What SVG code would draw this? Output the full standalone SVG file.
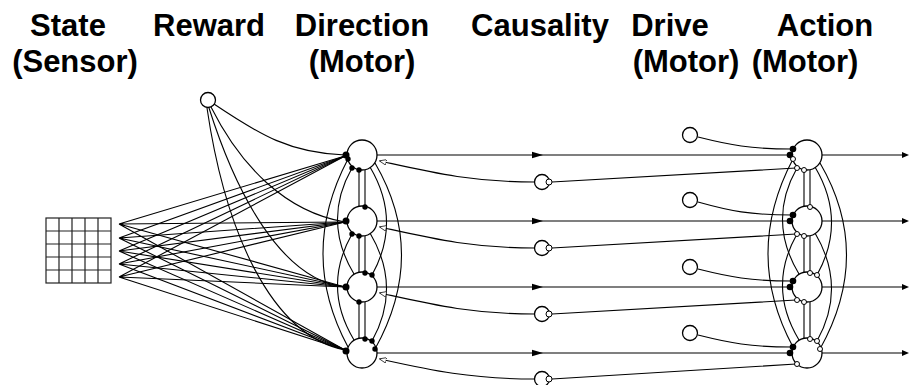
<svg xmlns="http://www.w3.org/2000/svg" width="909" height="385" viewBox="0 0 909 385">
<style>
.t{font-family:"Liberation Sans",Arial,sans-serif;font-weight:bold;font-size:31px;fill:#000;text-anchor:middle}
.ln{fill:none;stroke:#000;stroke-width:1.1}
.nd{fill:#fff;stroke:#000;stroke-width:1.3}
.bd{fill:#000}
.wd{fill:#fff;stroke:#000;stroke-width:1}
.gr{fill:none;stroke:#222;stroke-width:1.2}
</style>
<defs>
<marker id="hol" viewBox="0 0 10 8" refX="9" refY="4" markerWidth="7" markerHeight="5.6" orient="auto" markerUnits="userSpaceOnUse">
<path d="M0,0 L10,4 L0,8 Z" fill="#fff" stroke="#000" stroke-width="1"/>
</marker>
<polygon id="mid" points="-11,-3.2 0,0 -11,3.2"/>
<polygon id="out" points="-7,-3 0,0 -7,3"/>
</defs>

<g id="titles">
<text class="t" x="68" y="36">State</text>
<text class="t" x="75" y="72">(Sensor)</text>
<text class="t" x="209" y="36">Reward</text>
<text class="t" x="362" y="36">Direction</text>
<text class="t" x="362" y="72">(Motor)</text>
<text class="t" x="540" y="36">Causality</text>
<text class="t" x="670" y="36">Drive</text>
<text class="t" x="686" y="72">(Motor)</text>
<text class="t" x="825" y="36">Action</text>
<text class="t" x="805" y="72">(Motor)</text>
</g>

<g id="connectors">
<g class="ln">
<path d="M119,224L345,156M119,224L345,222M119,224L345,287M119,224L345,350"/>
<path d="M119,238L345,156M119,238L345,222M119,238L345,287M119,238L345,350"/>
<path d="M119,251L345,156M119,251L345,222M119,251L345,287M119,251L345,350"/>
<path d="M119,264L345,156M119,264L345,222M119,264L345,287M119,264L345,350"/>
<path d="M119,277L345,156M119,277L345,222M119,277L345,287M119,277L345,350"/>
</g>
<g class="ln">
<path d="M214,104 C260,135 290,153 345,155"/>
<path d="M211,107 C240,165 285,212 345,222"/>
<path d="M209,108 C235,190 280,280 345,287"/>
<path d="M207,108 C225,230 270,335 345,350"/>
</g>
<g class="ln">
<path d="M365,170V206M365,236V272M365,302V338"/>
<path d="M359,206V170M359,272V236M359,338V302"/>
<path d="M370,167 Q402,221 372,275"/>
<path d="M370,233 Q402,287 372,341"/>
<path d="M375,163 Q428,254 375,349"/>
<path d="M354,274 Q322,221 352,168"/>
<path d="M354,340 Q322,287 352,234"/>
<path d="M348,347 Q298,254 348,159"/>
</g>
<g class="ln">
<path d="M810,170V206M810,236V272M810,302V338"/>
<path d="M804,206V170M804,272V236M804,338V302"/>
<path d="M815,167 Q847,221 817,275"/>
<path d="M815,233 Q847,287 817,341"/>
<path d="M820,163 Q873,254 820,349"/>
<path d="M799,274 Q767,221 797,168"/>
<path d="M799,340 Q767,287 797,234"/>
<path d="M793,347 Q743,254 793,159"/>
</g>
<g class="ln">
<path d="M377,155H790M377,221H790M377,287H790M377,353H790"/>
</g>
<g class="bd">
<use href="#mid" x="543" y="155"/><use href="#mid" x="543" y="221"/><use href="#mid" x="543" y="287"/><use href="#mid" x="543" y="353"/>
</g>
<g class="ln">
<path d="M534.5,182 C470,182 430,172 380,161" marker-end="url(#hol)"/>
<path d="M534.5,248 C470,248 430,238 380,227" marker-end="url(#hol)"/>
<path d="M534.5,314 C470,314 430,304 380,293" marker-end="url(#hol)"/>
<path d="M534.5,379 C470,379 430,370 380,359" marker-end="url(#hol)"/>
</g>
<g class="ln">
<path d="M552,182L796,168M552,248L796,234M552,314L796,300M552,379L796,364"/>
</g>
<g class="ln">
<path d="M698,137 C730,145 750,149 792,149"/>
<path d="M698,202 C730,211 750,215 792,215"/>
<path d="M698,269 C730,277 750,281 792,281"/>
<path d="M698,335 C730,343 750,347 792,347"/>
</g>
<g class="ln">
<path d="M822,155H903M822,221H903M822,287H903M822,353H903"/>
</g>
<g class="bd">
<use href="#out" x="909" y="155"/><use href="#out" x="909" y="221"/><use href="#out" x="909" y="287"/><use href="#out" x="909" y="353"/>
</g>
</g>

<g id="state">
<rect class="gr" x="46" y="218" width="65" height="65"/>
<path class="gr" d="M59,218V283M72,218V283M85,218V283M98,218V283M46,231H111M46,244H111M46,257H111M46,270H111"/>
</g>
<g id="reward"><circle class="nd" cx="208" cy="100" r="7.5"/></g>

<g id="direction1"><circle class="nd" cx="362" cy="155" r="15"/></g>
<g id="direction2"><circle class="nd" cx="362" cy="221" r="15"/></g>
<g id="direction3"><circle class="nd" cx="362" cy="287" r="15"/></g>
<g id="direction4"><circle class="nd" cx="362" cy="353" r="15"/></g>

<g id="causality1"><circle class="nd" cx="542" cy="182" r="7.5"/><circle class="wd" cx="549" cy="182" r="3"/></g>
<g id="causality2"><circle class="nd" cx="542" cy="248" r="7.5"/><circle class="wd" cx="549" cy="248" r="3"/></g>
<g id="causality3"><circle class="nd" cx="542" cy="314" r="7.5"/><circle class="wd" cx="549" cy="314" r="3"/></g>
<g id="causality4"><circle class="nd" cx="542" cy="379" r="7.5"/><circle class="wd" cx="549" cy="379" r="3"/></g>

<g id="drive1"><circle class="nd" cx="690" cy="135" r="7.5"/></g>
<g id="drive2"><circle class="nd" cx="690" cy="200" r="7.5"/></g>
<g id="drive3"><circle class="nd" cx="690" cy="267" r="7.5"/></g>
<g id="drive4"><circle class="nd" cx="690" cy="333" r="7.5"/></g>

<g id="action1"><circle class="nd" cx="807" cy="155" r="15"/></g>
<g id="action2"><circle class="nd" cx="807" cy="221" r="15"/></g>
<g id="action3"><circle class="nd" cx="807" cy="287" r="15"/></g>
<g id="action4"><circle class="nd" cx="807" cy="353" r="15"/></g>

<g id="synapses">
<g class="bd">
<circle cx="346" cy="155" r="3.5"/><circle cx="346" cy="221" r="3.5"/><circle cx="346" cy="287" r="3.5"/><circle cx="346" cy="351" r="3.5"/>
<circle cx="365" cy="207" r="2.7"/><circle cx="365" cy="273" r="2.7"/><circle cx="365" cy="339" r="2.7"/>
<circle cx="359" cy="170" r="2.7"/><circle cx="359" cy="236" r="2.7"/><circle cx="359" cy="302" r="2.7"/>
<circle cx="372" cy="275" r="2.7"/><circle cx="372" cy="341" r="2.7"/><circle cx="375" cy="349" r="2.7"/>
<circle cx="352" cy="168" r="2.7"/><circle cx="352" cy="234" r="2.7"/><circle cx="348" cy="159" r="2.7"/>
<circle cx="790" cy="155" r="3.3"/><circle cx="790" cy="221" r="3.3"/><circle cx="790" cy="287" r="3.3"/><circle cx="790" cy="353" r="3.3"/>
<circle cx="793" cy="149" r="3.3"/><circle cx="793" cy="215" r="3.3"/><circle cx="793" cy="281" r="3.3"/><circle cx="793" cy="347" r="3.3"/>
</g>
<g class="wd">
<circle cx="810" cy="207" r="2.5"/><circle cx="810" cy="273" r="2.5"/><circle cx="810" cy="339" r="2.5"/>
<circle cx="804" cy="170" r="2.5"/><circle cx="804" cy="236" r="2.5"/><circle cx="804" cy="302" r="2.5"/>
<circle cx="817" cy="275" r="2.5"/><circle cx="817" cy="341" r="2.5"/><circle cx="820" cy="349" r="2.5"/>
<circle cx="797" cy="168" r="2.5"/><circle cx="797" cy="234" r="2.5"/><circle cx="793" cy="159" r="2.5"/>
<circle cx="797" cy="300" r="2.5"/><circle cx="797" cy="364" r="2.5"/>
</g>
</g>
</svg>
